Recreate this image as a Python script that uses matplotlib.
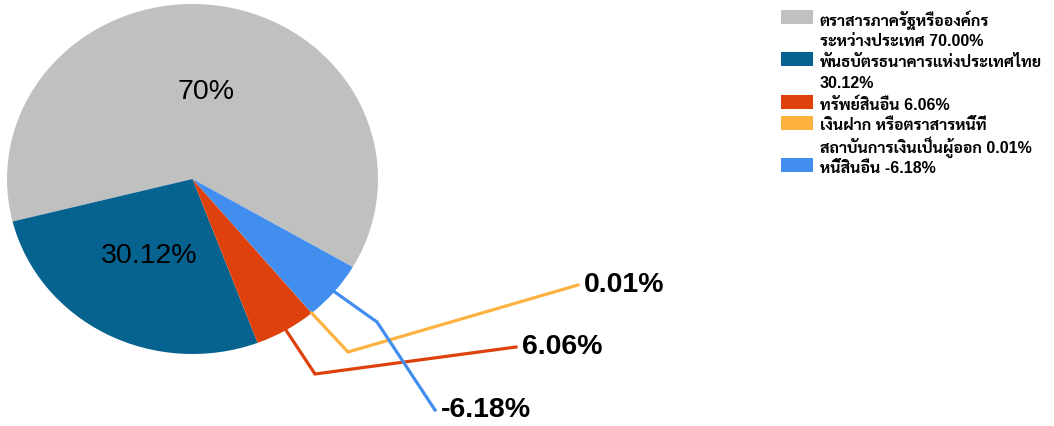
import matplotlib
matplotlib.use("Agg")
import matplotlib.pyplot as plt
from matplotlib import font_manager
from matplotlib.patches import Rectangle
import numpy as np

# ---- data ----
names = [
    ["ตราสารภาครัฐหรือองค์กร", "ระหว่างประเทศ 70.00%"],
    ["พันธบัตรธนาคารแห่งประเทศไทย", "30.12%"],
    ["ทรัพย์สินอื่น 6.06%"],
    ["เงินฝาก หรือตราสารหนี้ที่", "สถาบันการเงินเป็นผู้ออก 0.01%"],
    ["หนี้สินอื่น -6.18%"],
]
values = [70.00, 30.12, 6.06, 0.01, -6.18]
colors = ["#c0c0c0", "#06628f", "#de410b", "#fdb240", "#428eef"]

# ---- fonts ----
installed = {f.name for f in font_manager.fontManager.ttflist}
thai = [f for f in ["Sarabun", "IBM Plex Sans Thai Looped", "IBM Plex Sans Thai",
                    "Noto Sans Thai", "Kanit"] if f in installed][:1]
latin = "Liberation Sans" if "Liberation Sans" in installed else "DejaVu Sans"
fams = [latin] + thai + ["DejaVu Sans"]

W, H = 1054, 426
fig = plt.figure(figsize=(W / 100, H / 100), dpi=100)

# pie axes (slightly stretched horizontally)
px0, py0, pw, ph = 7, 4, 371, 350
ax = fig.add_axes([px0 / W, 1 - (py0 + ph) / H, pw / W, ph / H])
sizes = np.abs(values)
start = -30.2
wedges, _ = ax.pie(sizes, colors=colors, startangle=start, counterclock=True,
                   radius=1.0, wedgeprops=dict(linewidth=0))
ax.set_xlim(-1, 1)
ax.set_ylim(-1, 1)
ax.set_aspect("auto")
ax.axis("off")

# overlay in pixel coordinates for leader lines
ov = fig.add_axes([0, 0, 1, 1])
ov.set_xlim(0, W)
ov.set_ylim(H, 0)
ov.axis("off")


def to_px(x, y):
    d = ax.transData.transform((x, y))
    return ov.transData.inverted().transform(d)


mids = [(w.theta1 + w.theta2) / 2 for w in wedges]

# labels inside the two big slices
for i in (0, 1):
    a = np.deg2rad(mids[i])
    ax.text(0.5 * np.cos(a), 0.5 * np.sin(a), f"{values[i]:g}%",
            ha="center", va="center", fontsize=20.5, family=fams, color="black")

# leader lines for the small slices: (elbow, end) in pixels
leaders = {2: ((315, 374), (516, 347)),
           3: ((348, 352), (578, 285)),
           4: ((377, 322), (435, 410))}
for i, (elbow, end) in leaders.items():
    a = np.deg2rad(mids[i])
    sx, sy = to_px(np.cos(a), np.sin(a))
    ov.plot([sx, elbow[0], end[0]], [sy, elbow[1], end[1]],
            color=colors[i], lw=2.3, solid_joinstyle="miter")
    ov.text(end[0] + 6, end[1], f"{values[i]:g}%", ha="left", va="center",
            fontsize=20.5, family=fams, fontweight="bold", color="black")

# legend
lx, ly, line_h = 781, 10, 21.2
for name, c in zip(names, colors):
    ov.add_patch(Rectangle((lx, ly), 32, 14, color=c, lw=0))
    for k, line in enumerate(name):
        ov.text(lx + 39, ly + 10 + k * line_h, line, ha="left", va="center",
                fontsize=11.5, family=fams, fontweight="bold", color="black")
    ly += line_h * len(name)

fig.savefig("out.png", dpi=100)
